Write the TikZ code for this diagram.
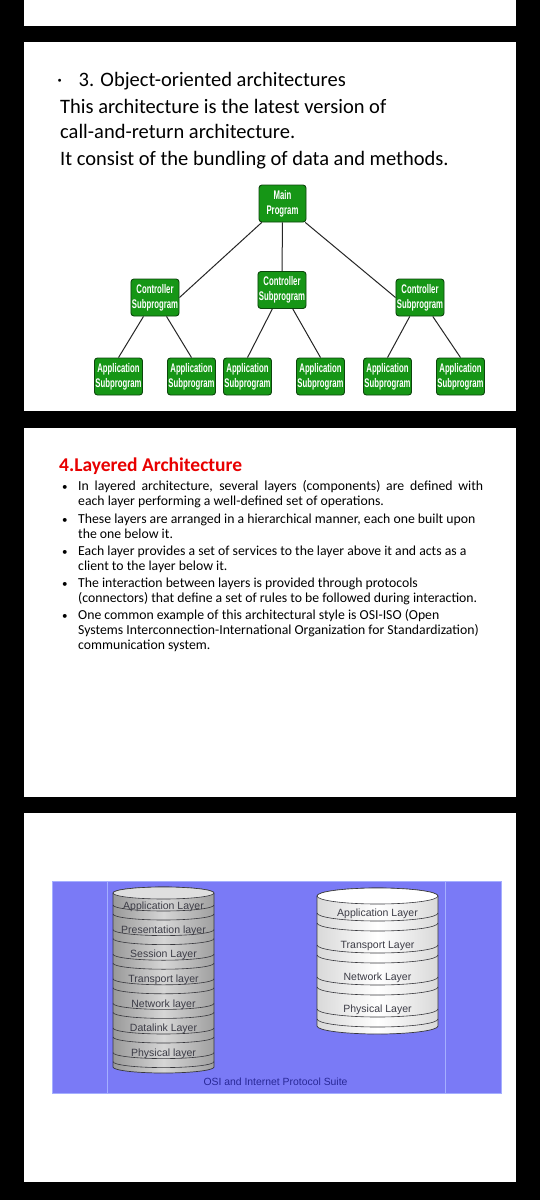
\documentclass[tikz,border=0pt]{standalone}
\usepackage{fontspec}
\setmainfont{Carlito}
\newfontfamily\arialf{Liberation Sans}
\newfontfamily\narrowf[FakeStretch=0.62]{Liberation Sans}
\usetikzlibrary{calc}
\definecolor{gfill}{RGB}{22,150,22}
\definecolor{gdraw}{RGB}{12,70,12}
\definecolor{bluebg}{RGB}{122,122,246}
\definecolor{blueline}{RGB}{165,175,255}
\definecolor{captblue}{RGB}{40,40,150}
\definecolor{redtitle}{RGB}{232,0,0}
\definecolor{cylline}{RGB}{55,55,60}
\definecolor{layertext}{RGB}{60,60,70}
\begin{document}
\begin{tikzpicture}[x=1pt,y=1pt,
  greenbox/.style={draw=gdraw, line width=0.9pt, fill=gfill, rounded corners=3pt,
    minimum width=47pt, minimum height=37pt, inner sep=1pt, text=white, align=center,
    font=\narrowf\bfseries\fontsize{12.5}{15}\selectfont},
  tline/.style={line width=1pt, draw=black!85},
  bigtext/.style={anchor=base west, inner sep=0pt, font=\fontsize{20.5}{24}\selectfont},
  smalltext/.style={anchor=base west, inner sep=0pt, font=\fontsize{13.75}{16}\selectfont},
  bul/.style={anchor=base west, inner sep=0pt, font=\fontsize{11}{14}\selectfont},
  layerlbl/.style={anchor=base, inner sep=0pt, text=layertext, font=\arialf\fontsize{10.5}{12}\selectfont},
  cylband/.style={draw=cylline, line width=0.6pt}
]
\useasboundingbox (0,0) rectangle (540,-1200);
\fill[black] (0,0) rectangle (540,-1200);
% panels
\fill[white] (24,0) rectangle (516,-26);
\fill[white] (24,-42) rectangle (516,-411);
\fill[white] (24,-428) rectangle (516,-797);
\fill[white] (24,-813) rectangle (516,-1182);

% ---------- panel 1 ----------
\node[bigtext] (dot) at (57,-86) {·};
\node[bigtext] (h1) at (78.5,-86) {3. Object-oriented architectures};
\node[bigtext] (l1) at (60,-113) {This architecture is the latest version of};
\node[bigtext] (l2) at (60,-138) {call-and-return architecture.};
\node[bigtext] (l3) at (60,-165) {It consist of the bundling of data and methods.};

\node[greenbox] (m) at (282.5,-203.5) {Main\\Program};
\node[greenbox] (c1) at (155,-297.5) {Controller\\Subprogram};
\node[greenbox] (c2) at (282,-290) {Controller\\Subprogram};
\node[greenbox] (c3) at (420,-297.5) {Controller\\Subprogram};
\node[greenbox] (a1) at (118.5,-376.5) {Application\\Subprogram};
\node[greenbox] (a2) at (191.5,-376.5) {Application\\Subprogram};
\node[greenbox] (a3) at (247.5,-376.5) {Application\\Subprogram};
\node[greenbox] (a4) at (320.5,-376.5) {Application\\Subprogram};
\node[greenbox] (a5) at (387.5,-376.5) {Application\\Subprogram};
\node[greenbox] (a6) at (460.5,-376.5) {Application\\Subprogram};
\draw[tline] (m) -- (c1.east);
\draw[tline] (m) -- (c2);
\draw[tline] (m) -- (c3.west);
\draw[tline] (c1) -- (a1.north);
\draw[tline] (c1) -- (a2.north);
\draw[tline] (c2) -- (a3.north);
\draw[tline] (c2) -- (a4.north);
\draw[tline] (c3) -- (a5.north);
\draw[tline] (c3) -- (a6.north);

% ---------- panel 2 ----------
\node[anchor=base west, inner sep=0pt, text=redtitle, font=\bfseries\fontsize{19.5}{22}\selectfont] (t2) at (59,-471.5) {4.Layered Architecture};
\node[bul] (b1) at (62,-490.5) {•};
\node[smalltext] (p1a) at (78,-490.5) {\makebox[405pt][s]{In layered architecture, several layers (components) are defined with}};
\node[smalltext] (p1b) at (78,-505.5) {each layer performing a well-defined set of operations.};
\node[bul] (b2) at (62,-523) {•};
\node[smalltext] (p2a) at (78,-523) {These layers are arranged in a hierarchical manner, each one built upon};
\node[smalltext] (p2b) at (78,-538) {the one below it.};
\node[bul] (b3) at (62,-555) {•};
\node[smalltext] (p3a) at (78,-555) {Each layer provides a set of services to the layer above it and acts as a};
\node[smalltext] (p3b) at (78,-570.5) {client to the layer below it.};
\node[bul] (b4) at (62,-587) {•};
\node[smalltext] (p4a) at (78,-587) {The interaction between layers is provided through protocols};
\node[smalltext] (p4b) at (78,-602) {(connectors) that define a set of rules to be followed during interaction.};
\node[bul] (b5) at (62,-619.5) {•};
\node[smalltext] (p5a) at (78,-619.5) {One common example of this architectural style is OSI-ISO (Open};
\node[smalltext] (p5b) at (78,-634.5) {Systems Interconnection-International Organization for Standardization)};
\node[smalltext] (p5c) at (78,-649.5) {communication system.};

% ---------- panel 3 ----------
\fill[bluebg] (52,-881) rectangle (501,-1093);
\draw[blueline, line width=0.8pt] (52,-881) rectangle (501,-1093);
\draw[blueline, line width=0.8pt] (107,-881) -- (107,-1093);
\draw[blueline, line width=0.8pt] (445,-881) -- (445,-1093);

% left cylinder (OSI)
\path[left color=gray!80, right color=gray!75, middle color=gray!32, draw=cylline, line width=0.7pt]
  (113,-893) -- (113,-1067) arc[start angle=180, end angle=360, x radius=50.5, y radius=6]
  -- (214,-893) arc[start angle=0, end angle=180, x radius=50.5, y radius=6] -- cycle;
\draw[cylband, fill=gray!25] (163.5,-893) ellipse[x radius=50.5, y radius=6];
\foreach \k in {0,...,6}{
  \draw[cylband] (113,{-911-24.6*\k+6}) arc[start angle=180, end angle=360, x radius=50.5, y radius=6];
  \draw[cylband] (113,{-920-24.6*\k+6}) arc[start angle=180, end angle=360, x radius=50.5, y radius=6];
}
\node[layerlbl] (o1) at (163.5,-909.5) {Application Layer};
\node[layerlbl] (o2) at (163.5,-933.5) {Presentation layer};
\node[layerlbl] (o3) at (163.5,-957.5) {Session Layer};
\node[layerlbl] (o4) at (163.5,-982.5) {Transport layer};
\node[layerlbl] (o5) at (163.5,-1007.5) {Network layer};
\node[layerlbl] (o6) at (163.5,-1031.5) {Datalink Layer};
\node[layerlbl] (o7) at (163.5,-1056.5) {Physical layer};

% right cylinder (Internet)
\path[left color=gray!30, right color=gray!30, middle color=white, draw=cylline, line width=0.7pt]
  (317,-896) -- (317,-1026) arc[start angle=180, end angle=360, x radius=60.5, y radius=8]
  -- (438,-896) arc[start angle=0, end angle=180, x radius=60.5, y radius=8] -- cycle;
\draw[cylband, fill=white] (377.5,-896) ellipse[x radius=60.5, y radius=8];
\foreach \k in {0,...,3}{
  \draw[cylband] (317,{-921-32*\k+8}) arc[start angle=180, end angle=360, x radius=60.5, y radius=8];
  \draw[cylband] (317,{-931-32*\k+8}) arc[start angle=180, end angle=360, x radius=60.5, y radius=8];
}
\node[layerlbl] (i1) at (377.5,-916.5) {Application Layer};
\node[layerlbl] (i2) at (377.5,-948.5) {Transport Layer};
\node[layerlbl] (i3) at (377.5,-980.5) {Network Layer};
\node[layerlbl] (i4) at (377.5,-1012.5) {Physical Layer};

\node[anchor=base, inner sep=0pt, text=captblue, font=\arialf\fontsize{10.4}{12}\selectfont] (cap) at (275.5,-1085) {OSI and Internet Protocol Suite};
\end{tikzpicture}
\end{document}
